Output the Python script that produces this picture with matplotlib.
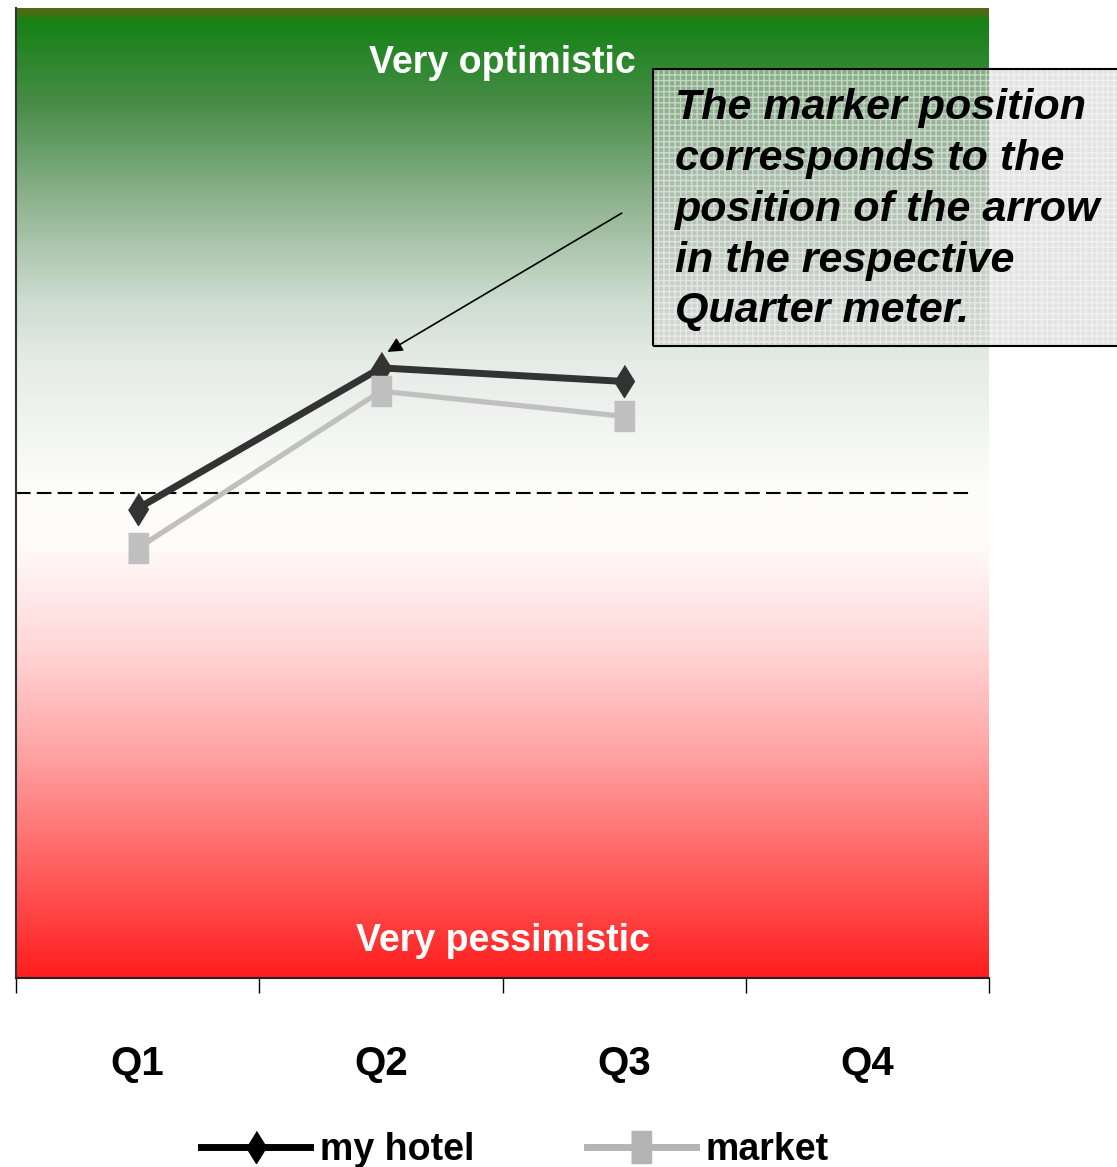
import numpy as np
import matplotlib.pyplot as plt
from matplotlib.colors import LinearSegmentedColormap
from matplotlib.lines import Line2D
from matplotlib.patches import Rectangle

plt.rcParams['font.family'] = ['Liberation Sans', 'DejaVu Sans']

# ==================== DATA ====================
quarters = ["Q1", "Q2", "Q3", "Q4"]
my_hotel = [48.4, 62.9, 61.5]
market = [44.3, 60.5, 57.9]
neutral_level = 50
top_label = "Very optimistic"
bottom_label = "Very pessimistic"
note = ("The marker position\ncorresponds to the\nposition of the arrow\n"
        "in the respective\nQuarter meter.")

# ==================== FIGURE ====================
W, H = 1117, 1167
fig = plt.figure(figsize=(W / 100, H / 100), dpi=100)
ax = fig.add_axes([16 / W, 1 - 978 / H, 973 / W, 970 / H])

ax.set_xlim(0, 4)
ax.set_ylim(0, 100)

# background gradient (position 0 = bottom, 1 = top)
stops = [
    (0.00, (255, 30, 30)),
    (0.11, (255, 95, 95)),
    (0.225, (255, 160, 160)),
    (0.34, (255, 215, 215)),
    (0.45, (255, 252, 252)),
    (0.51, (252, 252, 250)),
    (0.635, (230, 236, 232)),
    (0.70, (205, 220, 208)),
    (0.80, (145, 180, 145)),
    (0.905, (70, 140, 70)),
    (0.99, (20, 130, 20)),
    (1.00, (85, 105, 20)),
]
cmap = LinearSegmentedColormap.from_list(
    "meter", [(p, tuple(c / 255 for c in rgb)) for p, rgb in stops])
grad = np.linspace(0, 1, 800).reshape(-1, 1)
ax.imshow(grad, cmap=cmap, origin="lower", aspect="auto",
          extent=[0, 4, 0, 100], zorder=0, interpolation="bilinear")

# neutral dashed line
ax.axhline(neutral_level, xmax=0.98, color="black", lw=1.5,
           dashes=(7, 3), zorder=1)

# markers
diamond = [(0, 0.5), (0.31, 0), (0, -0.5), (-0.31, 0)]
tall_square = [(-0.32, -0.5), (0.32, -0.5), (0.32, 0.5), (-0.32, 0.5)]

x = np.arange(len(my_hotel)) + 0.5
ax.plot(x, my_hotel, color="#333333", lw=5, marker=diamond, ms=23,
        mec="#333333", mfc="#333333", zorder=3, solid_joinstyle="miter")
ax.plot(x, market, color="#c0c0c0", lw=3.8, marker=tall_square, ms=22,
        mec="#c0c0c0", mfc="#c0c0c0", zorder=4)

# labels inside the meter
ax.text(2.0, 94.3, top_label, color="white", fontsize=27,
        fontweight="bold", ha="center", va="center", zorder=5)
ax.text(2.0, 3.8, bottom_label, color="white", fontsize=27,
        fontweight="bold", ha="center", va="center", zorder=5)

# arrow to Q2 marker
ax.annotate("", xy=(1.517, 64.4), xytext=(2.50, 79.0),
            arrowprops=dict(arrowstyle="-|>", color="black", lw=1.2,
                            mutation_scale=22), zorder=6)

# axes styling
for s in ["top", "right"]:
    ax.spines[s].set_visible(False)
ax.spines["left"].set_color("#333333")
ax.spines["left"].set_linewidth(1.5)
ax.spines["bottom"].set_color("#222222")
ax.spines["bottom"].set_linewidth(1.5)
ax.set_yticks([])
ax.set_xticks([0, 1, 2, 3, 4])
ax.set_xticklabels([])
ax.tick_params(axis="x", which="major", length=11, width=1, color="black")
ax.set_xticks([0.5, 1.5, 2.5, 3.5], minor=True)
ax.set_xticklabels(quarters, minor=True, fontsize=29, fontweight="bold")
ax.tick_params(axis="x", which="minor", length=0, pad=48)

# note box (grid pattern, extends past the figure edge)
box_x0, box_y0, box_w, box_h = 653, H - 346, 480, 277
fill = Rectangle((box_x0 / W, box_y0 / H), box_w / W, box_h / H,
                 transform=fig.transFigure, facecolor=(0.8, 0.8, 0.8, 0.55),
                 edgecolor=(1, 1, 1, 0.5), hatch="+++", lw=0, zorder=7)
border = Rectangle((box_x0 / W, box_y0 / H), box_w / W, box_h / H,
                   transform=fig.transFigure, fill=False,
                   edgecolor="black", lw=1.5, zorder=8)
fig.add_artist(fill)
fig.add_artist(border)
fig.text(675 / W, 1 - 88 / H, note, fontsize=31, fontweight="bold",
         fontstyle="italic", ha="left", va="top", linespacing=1.35,
         zorder=9)

# legend
handles = [
    Line2D([], [], color="black", lw=5, marker=diamond, ms=23,
           mfc="black", mec="black"),
    Line2D([], [], color="#b4b4b4", lw=5, marker=tall_square, ms=23,
           mfc="#b4b4b4", mec="#b4b4b4"),
]
fig.legend(handles, ["my hotel", "market"], loc="center", ncol=2,
           bbox_to_anchor=(515 / W, 1 - 1150 / H), frameon=False,
           prop=dict(size=27, weight="bold"), handlelength=2.9,
           handletextpad=0.27, columnspacing=3.0, borderpad=0)

fig.savefig("out.png", dpi=100)
